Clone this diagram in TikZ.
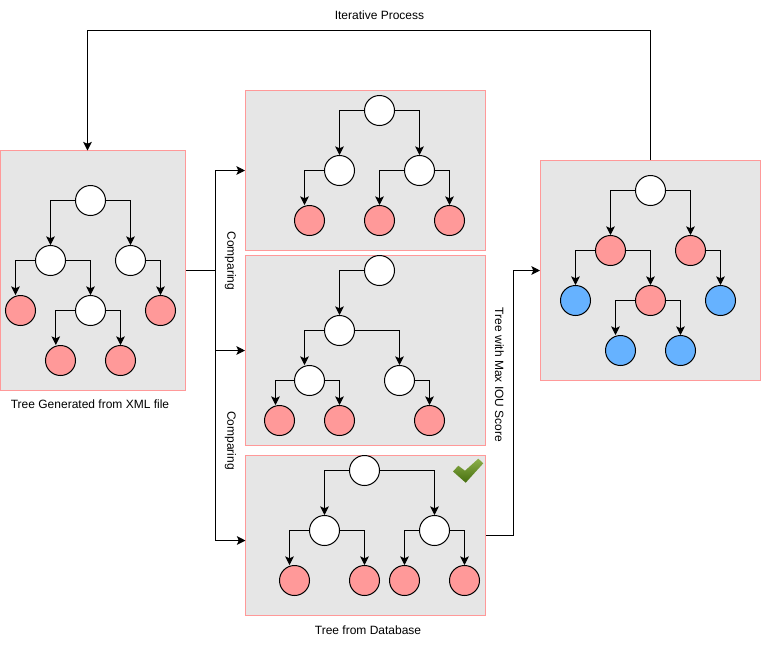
\documentclass[tikz,border=0pt]{standalone}
\usepackage{fontspec}
\setmainfont{Liberation Sans}
\usetikzlibrary{arrows.meta,positioning}
\definecolor{boxgray}{HTML}{E6E6E6}
\definecolor{boxred}{HTML}{FF9999}
\definecolor{nodeblue}{HTML}{66B2FF}
\definecolor{checktop}{HTML}{8DB04A}
\definecolor{checkbot}{HTML}{456E0E}
\begin{document}
\begin{tikzpicture}
  [
  x=0.75pt, y=-0.75pt,
  font=\fontsize{9pt}{11pt}\selectfont, line width=0.75pt, >={Stealth[length=6.5pt,width=6.5pt,inset=1.5pt]},
  panel/.style={rectangle, inner sep=0pt, draw=boxred, fill=boxgray},
  plainnode/.style={circle, inner sep=0pt, minimum size=22.5pt, draw=black, fill=white},
  rednode/.style={plainnode, fill=boxred},
  bluenode/.style={plainnode, fill=nodeblue},
  link/.style={->, draw=black},
  ]
  \useasboundingbox (0,0) rectangle (761,647);

  \node[panel, minimum width=138.75pt, minimum height=180pt] (xmlbox) at (92.75,270.5) {};
  \node[panel, minimum width=180pt, minimum height=120pt] (dbboxa) at (365.5,170.5) {};
  \node[panel, minimum width=180pt, minimum height=142.5pt] (dbboxb) at (365.5,350.5) {};
  \node[panel, minimum width=180pt, minimum height=120pt] (dbboxc) at (365.5,535.5) {};
  \node[panel, minimum width=165pt, minimum height=165pt] (bestbox) at (650.5,270.5) {};

  \node[plainnode] (xroot) at (90.5,200.5) {};
  \node[plainnode] (xl) at (50.5,260.5) {};
  \node[plainnode] (xr) at (130.5,260.5) {};
  \node[rednode] (xll) at (20.5,310.5) {};
  \node[plainnode] (xlr) at (90.5,310.5) {};
  \node[rednode] (xrr) at (160.5,310.5) {};
  \node[rednode] (xlrl) at (60.5,360.5) {};
  \node[rednode] (xlrr) at (120.5,360.5) {};
  \draw[link] (xroot.west) -| (xl.north);
  \draw[link] (xroot.east) -| (xr.north);
  \draw[link] (xl.west) -| ([xshift=-3.75pt]xll.north);
  \draw[link] (xl.east) -| (xlr.north);
  \draw[link] (xr.east) -| (xrr.north);
  \draw[link] (xlr.west) -| ([xshift=-3.5pt]xlrl.north);
  \draw[link] (xlr.east) -| (xlrr.north);

  \node[plainnode] (aroot) at (379.5,110.5) {};
  \node[plainnode] (al) at (339.5,170.5) {};
  \node[plainnode] (ar) at (419.5,170.5) {};
  \node[rednode] (all) at (309.5,220.5) {};
  \node[rednode] (arl) at (379.5,220.5) {};
  \node[rednode] (arr) at (449.5,220.5) {};
  \draw[link] (aroot.west) -| (al.north);
  \draw[link] (aroot.east) -| (ar.north);
  \draw[link] (al.west) -| ([xshift=-3.75pt]all.north);
  \draw[link] (ar.west) -| (arl.north);
  \draw[link] (ar.east) -| (arr.north);

  \node[plainnode] (broot) at (379.5,270.5) {};
  \node[plainnode] (bl) at (339.5,330.5) {};
  \node[plainnode] (bll) at (309.5,380.5) {};
  \node[plainnode] (blr) at (399.5,380.5) {};
  \node[rednode] (blll) at (279.5,420.5) {};
  \node[rednode] (bllr) at (339.5,420.5) {};
  \node[rednode] (blrr) at (429.5,420.5) {};
  \draw[link] (broot.west) -| (bl.north);
  \draw[link] (bl.west) -| ([xshift=-3.75pt]bll.north);
  \draw[link] (bl.east) -| (blr.north);
  \draw[link] (bll.west) -| ([xshift=-3pt]blll.north);
  \draw[link] (bll.east) -| (bllr.north);
  \draw[link] (blr.east) -| (blrr.north);

  \node[plainnode] (croot) at (364.5,470.5) {};
  \node[plainnode] (cl) at (324.5,530.5) {};
  \node[plainnode] (cr) at (434.5,530.5) {};
  \node[rednode] (cll) at (294.5,580.5) {};
  \node[rednode] (clr) at (364.5,580.5) {};
  \node[rednode] (crl) at (404.5,580.5) {};
  \node[rednode] (crr) at (464.5,580.5) {};
  \draw[link] (croot.west) -| (cl.north);
  \draw[link] (croot.east) -| (cr.north);
  \draw[link] (cl.west) -| ([xshift=-3.75pt]cll.north);
  \draw[link] (cl.east) -| (clr.north);
  \draw[link] (cr.west) -| (crl.north);
  \draw[link] (cr.east) -| (crr.north);

  \node[plainnode] (eroot) at (650.5,190.5) {};
  \node[rednode] (el) at (610.5,250.5) {};
  \node[rednode] (er) at (690.5,250.5) {};
  \node[bluenode] (ell) at (575.5,300.5) {};
  \node[rednode] (elr) at (650.5,300.5) {};
  \node[bluenode] (err) at (720.5,300.5) {};
  \node[bluenode] (elrl) at (620.5,350.5) {};
  \node[bluenode] (elrr) at (680.5,350.5) {};
  \draw[link] (eroot.west) -| (el.north);
  \draw[link] (eroot.east) -| (er.north);
  \draw[link] (el.west) -| (ell.north);
  \draw[link] (el.east) -| (elr.north);
  \draw[link] (er.east) -| (err.north);
  \draw[link] (elr.west) -| ([xshift=-3.75pt]elrl.north);
  \draw[link] (elr.east) -| (elrr.north);

  \coordinate (split) at (215.5,270.5);
  \coordinate (clin) at (245.5,540.5);
  \coordinate (loopa) at (650.5,30.5);
  \coordinate (loopb) at (87.5,30.5);
  \coordinate (xin) at (87.5,150.5);
  \coordinate (coutb) at (513.5,535.5);
  \coordinate (ein) at (513.5,270.5);
  \draw (xmlbox.east) -- (split);
  \draw[link] (split) |- (dbboxa.west);
  \draw[link] (split) |- (dbboxb.west);
  \draw[link] (split) |- (clin);
  \draw[link] (dbboxc.east) -- (coutb) -- (ein) -- (bestbox.west);
  \draw[link] (bestbox.north) -- (loopa) -- (loopb) -- (xin);

  \node (itertext) at (379.5,15) {Iterative Process};
  \node[rotate=-90] (compa) at (230.5,261) {Comparing};
  \node[rotate=-90] (compb) at (230.5,440.5) {Comparing};
  \node[rotate=-90] (maxtext) at (499.5,375) {Tree with Max IOU Score};
  \node (xmltext) at (90,404) {Tree Generated from XML file};
  \node (dbtext) at (368,630) {Tree from Database};

  \shade[top color=checktop, bottom color=checkbot] (453,471.5) -- (458.3,465.7) -- (465,470.7) -- (478.3,458.7) -- (483.3,463.3) -- (465.7,482.7) -- cycle;
\end{tikzpicture}
\end{document}
